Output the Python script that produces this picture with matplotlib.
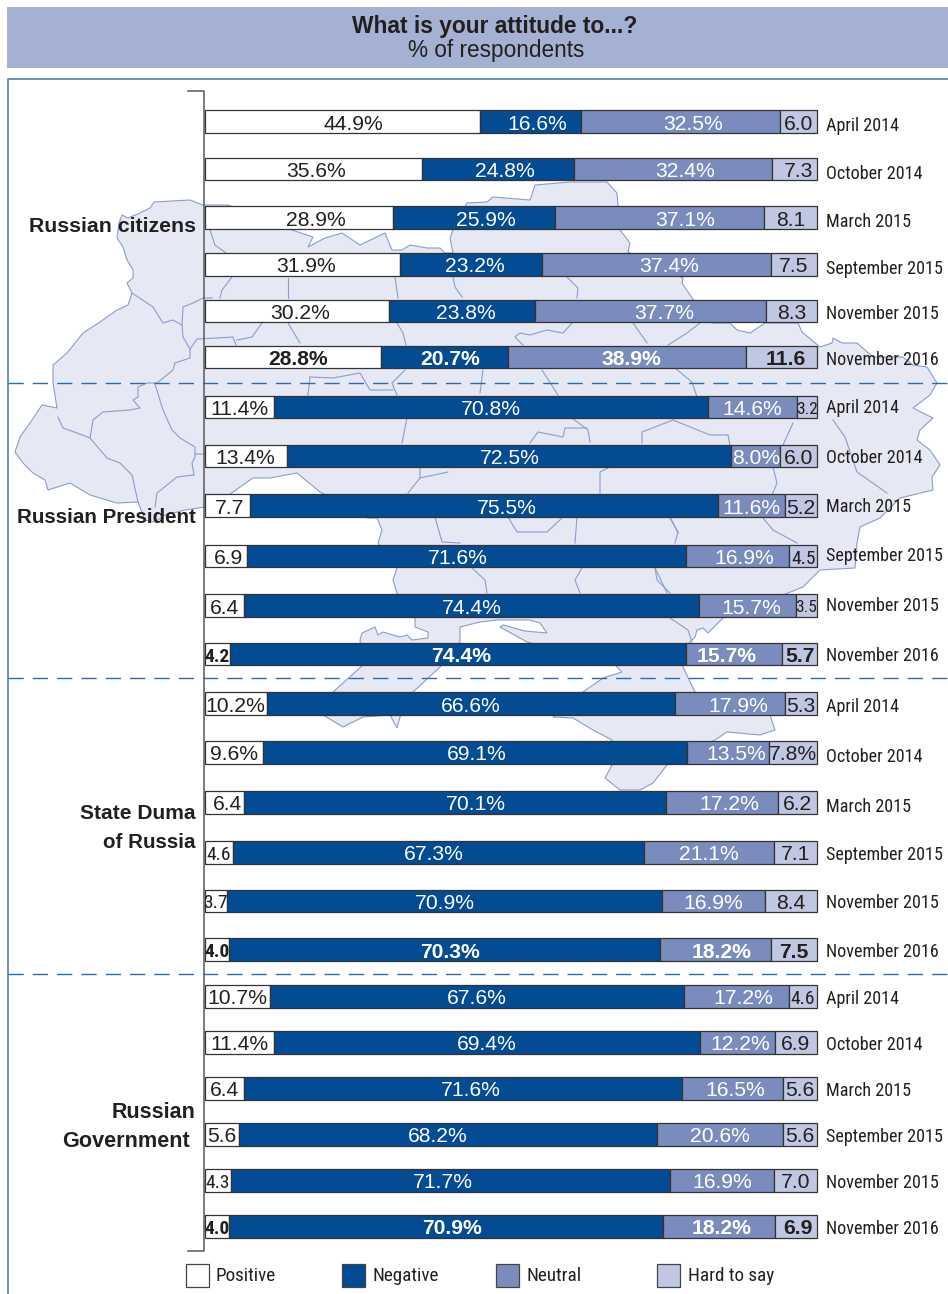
import matplotlib
matplotlib.use("Agg")
import matplotlib.pyplot as plt
from matplotlib import font_manager as fm
from matplotlib.patches import Polygon, Rectangle

names = {f.name for f in fm.fontManager.ttflist}
SANS = "Liberation Sans"
NARROW = "Liberation Sans Narrow" if "Liberation Sans Narrow" in names else ("Roboto Condensed" if "Roboto Condensed" in names else SANS)

# ---------- data ----------
dates = ["April 2014", "October 2014", "March 2015", "September 2015", "November 2015", "November 2016"]
legend_labels = ["Positive", "Negative", "Neutral", "Hard to say"]

positive = [44.9, 35.6, 28.9, 31.9, 30.2, 28.8,
            11.4, 13.4, 7.7, 6.9, 6.4, 4.2,
            10.2, 9.6, 6.4, 4.6, 3.7, 4.0,
            10.7, 11.4, 6.4, 5.6, 4.3, 4.0]
negative = [16.6, 24.8, 25.9, 23.2, 23.8, 20.7,
            70.8, 72.5, 75.5, 71.6, 74.4, 74.4,
            66.6, 69.1, 70.1, 67.3, 70.9, 70.3,
            67.6, 69.4, 71.6, 68.2, 71.7, 70.9]
neutral = [32.5, 32.4, 37.1, 37.4, 37.7, 38.9,
           14.6, 8.0, 11.6, 16.9, 15.7, 15.7,
           17.9, 13.5, 17.2, 21.1, 16.9, 18.2,
           17.2, 12.2, 16.5, 20.6, 16.9, 18.2]
hard = [6.0, 7.3, 8.1, 7.5, 8.3, 11.6,
        3.2, 6.0, 5.2, 4.5, 3.5, 5.7,
        5.3, 7.8, 6.2, 7.1, 8.4, 7.5,
        4.6, 6.9, 5.6, 5.6, 7.0, 6.9]
# three bars in the picture are not drawn to the length their labels state
drawn_lengths = {2: [30.7, 26.6, 34.0, 8.7],
                 8: [7.4, 76.5, 10.8, 5.3],
                 14: [6.4, 69.0, 18.2, 6.4]}

# ---------- layout (pixels) ----------
W, H = 948, 1294
BAR_L, BAR_R = 204.5, 817
BAR_H = 22.5
row_y = [121.5, 169, 217.5, 264.5, 311, 357,
         407, 456, 505.5, 556, 605.5, 654,
         703.5, 752.5, 802.5, 852.5, 901, 949.5,
         996.5, 1042.5, 1088.5, 1134.5, 1180.5, 1226.5]
date_y = [124, 172, 220, 267, 312, 358, 406, 456, 505, 554, 604, 654,
          705, 755, 805, 853, 901, 950, 997, 1043, 1089, 1135, 1181, 1227]
shift = {(0, 0): 11, (0, 1): 7, (0, 2): 12, (1, 0): 3, (1, 1): 7, (1, 2): 12, (1, 3): 4,
         (2, 0): 17, (2, 1): 12, (2, 2): 26, (3, 0): 4, (3, 1): 4, (3, 2): 13, (4, 0): 3,
         (4, 1): 4, (4, 2): 13, (5, 0): 5, (5, 1): 6, (5, 2): 5, (5, 3): 4,
         (7, 1): 1, (8, 0): 2, (8, 1): 23, (9, 0): 3, (9, 1): -8, (9, 2): 7, (10, 2): 4,
         (11, 1): 3, (11, 2): -7, (12, 2): 9, (13, 1): 2, (13, 2): 8,
         (14, 0): 3, (14, 1): 21, (14, 2): 7, (15, 1): -5,
         (17, 1): 6, (17, 2): 6, (18, 2): 7, (19, 2): 3,
         (20, 1): 8, (20, 2): 3, (21, 1): -10, (22, 1): -8, (23, 1): 6, (23, 2): 3, (23, 3): 2}

INK = "#231f20"
C_POS, C_NEG, C_NEU, C_HARD = "#ffffff", "#034b92", "#7a8cbd", "#c0c7e2"
C_HEAD, C_MAP, C_BORDER = "#a4b1d3", "#e6e9f4", "#8a9dcb"
C_FRAME, C_DASH = "#4a80b8", "#2a6bb0"

# decorative map backdrop, traced outline
map_outline = [(154, 202), (190, 200), (203, 205), (228, 205), (292, 230), (313, 237), (308, 247), (325, 238),
    (342, 233), (360, 245), (385, 233), (392, 250), (402, 250), (410, 245), (427, 248), (440, 248), (445, 253),
    (453, 253), (450, 238), (453, 230), (467, 203), (487, 202), (493, 197), (530, 200), (535, 185), (570, 182),
    (607, 182), (617, 193), (618, 205), (620, 230), (630, 243), (628, 252), (683, 278), (682, 283), (692, 298),
    (712, 323), (730, 323), (737, 330), (750, 333), (765, 323), (798, 323), (802, 332), (820, 347), (832, 343),
    (833, 338), (842, 343), (857, 343), (873, 357), (903, 357), (913, 365), (927, 367), (937, 383), (930, 395),
    (913, 408), (933, 418), (920, 430), (917, 440), (930, 450), (940, 465), (932, 477), (933, 490), (900, 498),
    (880, 518), (860, 527), (857, 543), (855, 568), (820, 570), (803, 587), (788, 593), (723, 618), (708, 633),
    (703, 628), (697, 630), (695, 637), (690, 642), (683, 667), (695, 692), (770, 715), (775, 730), (760, 735),
    (727, 732), (715, 740), (667, 765), (653, 783), (640, 790), (620, 790), (605, 778), (612, 765), (612, 740),
    (593, 730), (573, 718), (553, 717), (583, 692), (603, 678), (622, 672), (615, 665), (527, 642), (500, 627),
    (503, 625), (525, 631), (547, 633), (540, 623), (530, 620), (497, 620), (480, 622), (460, 627), (460, 642),
    (440, 667), (413, 692), (400, 717), (397, 728), (390, 715), (363, 717), (343, 727), (323, 715), (333, 692),
    (363, 665), (360, 640), (362, 633), (375, 627), (378, 635), (383, 632), (400, 637), (407, 635), (412, 640),
    (428, 638), (428, 632), (415, 627), (415, 617), (397, 593), (393, 580), (397, 568), (378, 543), (382, 530),
    (377, 518), (368, 518), (320, 492), (297, 473), (270, 478), (253, 478), (233, 492), (215, 505), (205, 507),
    (185, 510), (165, 515), (155, 522), (145, 520), (138, 502), (117, 503), (90, 495), (70, 483), (48, 490),
    (45, 480), (33, 473), (23, 463), (15, 452), (20, 437), (32, 420), (42, 405), (57, 408), (53, 383), (53, 365),
    (67, 353), (83, 333), (100, 322), (117, 310), (128, 305), (132, 293), (127, 283), (133, 278), (133, 270),
    (127, 260), (123, 247), (117, 238), (119, 223), (122, 215), (128, 218), (140, 213), (150, 208)]
map_borders = [
    [(132, 293), (153, 307), (163, 323), (173, 320), (182, 325), (183, 307), (193, 303), (203, 298), (212, 298)],
    [(182, 325), (183, 337), (190, 349), (197, 339), (217, 338), (233, 337), (236, 345)],
    [(190, 349), (190, 358), (175, 363), (173, 370), (157, 383), (147, 383), (138, 387), (138, 397), (133, 400),
     (140, 408), (130, 410), (103, 412), (93, 420), (90, 438)],
    [(58, 417), (63, 428), (77, 433), (90, 438), (107, 458), (120, 463), (132, 475), (138, 502)],
    [(155, 384), (163, 410), (172, 430), (180, 438), (195, 447), (195, 457), (192, 463), (194, 475), (177, 477),
     (157, 493), (155, 507)],
    [(195, 454), (230, 455)], [(210, 230), (215, 245), (226, 253)], [(232, 277), (222, 290), (220, 298)],
    [(288, 278), (288, 298)], [(395, 277), (398, 298)], [(453, 277), (455, 287), (462, 297)],
    [(567, 277), (578, 288), (577, 298)], [(397, 323), (403, 333), (406, 345)],
    [(262, 323), (252, 337), (237, 340)], [(288, 323), (300, 343)],
    [(572, 323), (563, 333), (547, 330), (530, 335), (520, 333), (515, 337), (523, 345)],
    [(633, 323), (647, 343)], [(700, 323), (687, 333), (668, 345)], [(675, 368), (692, 382), (697, 397)],
    [(405, 370), (392, 383), (397, 395)], [(310, 377), (308, 395)],
    [(310, 377), (333, 378), (360, 373), (370, 390), (393, 390)], [(483, 370), (480, 393)],
    [(542, 370), (558, 395)], [(407, 418), (402, 443)], [(572, 418), (588, 430), (590, 442)],
    [(530, 443), (538, 432), (563, 437), (565, 428), (587, 428)], [(420, 468), (420, 478), (408, 493)],
    [(420, 478), (448, 472)], [(600, 493), (600, 472), (608, 468)], [(673, 420), (642, 432), (642, 443)],
    [(673, 420), (710, 435), (728, 435), (730, 445)], [(793, 423), (773, 467), (777, 483), (763, 517)],
    [(763, 518), (773, 530), (797, 543)], [(833, 420), (845, 437), (857, 472), (887, 493)],
    [(670, 518), (678, 532), (675, 543)], [(655, 568), (657, 580), (670, 593)],
    [(435, 517), (442, 542), (460, 543)], [(508, 517), (517, 532), (547, 532), (562, 518)],
    [(577, 517), (575, 543)], [(670, 517), (678, 533)], [(472, 568), (485, 580), (487, 593)],
    [(582, 568), (575, 580), (580, 593)], [(655, 568), (667, 593)], [(670, 618), (688, 630), (692, 642)],
]

fig = plt.figure(figsize=(W / 100, H / 100), dpi=100, facecolor="white")

# pixel-space backdrop
bg = fig.add_axes([0, 0, 1, 1], zorder=0)
bg.set_xlim(0, W)
bg.set_ylim(H, 0)
bg.axis("off")
bg.add_patch(Rectangle((7, 7), W - 7, 61, fc=C_HEAD, ec="none"))
bg.add_patch(Polygon(map_outline, closed=True, fc=C_MAP, ec=C_BORDER, lw=0.8))
for seg in map_borders:
    bg.plot(*zip(*seg), color=C_BORDER, lw=0.8, solid_joinstyle="round")
bg.plot([8, 8, W], [H, 79, 79], color=C_FRAME, lw=1.2)
for y in [383, 678, 974]:
    bg.plot([8, W], [y, y], color=C_DASH, lw=1.0, dashes=(11, 6.5))
bg.plot([188, 204, 204, 188], [91, 91, 1251, 1251], color="#58585a", lw=1.1)

bg.text(495, 26, "What is your attitude to...?", family=SANS, weight="bold", size=16.4, color=INK, ha="center", va="center")
bg.text(496, 50, "% of respondents", family=SANS, size=16.3, color=INK, ha="center", va="center")

GROUP = dict(family=SANS, weight="bold", color=INK, ha="right", va="center", zorder=6)
bg.text(196, 226.5, "Russian citizens", size=15.3, **GROUP)
bg.text(196, 517.5, "Russian President", size=14.8, **GROUP)
bg.text(196, 813.5, "State Duma", size=15.1, **GROUP)
bg.text(196, 842.5, "of Russia", size=14.8, **GROUP)
bg.text(196, 1112.5, "Russian", size=15.5, **GROUP)
bg.text(190, 1141.5, "Government", size=15.6, **GROUP)

# stacked bars
ax = fig.add_axes([BAR_L / W, 0, (BAR_R - BAR_L) / W, 1], zorder=1)
ax.patch.set_alpha(0)
ax.set_xlim(0, 100)
ax.set_ylim(H, 0)
ax.axis("off")
px = 100 / (BAR_R - BAR_L)

series = [positive, negative, neutral, hard]
colors = [C_POS, C_NEG, C_NEU, C_HARD]
for i, y in enumerate(row_y):
    vals = [s[i] for s in series]
    lengths = drawn_lengths.get(i, vals)
    total = sum(lengths)
    left = 0
    bold = i % 6 == 5
    for k, (v, ln, c) in enumerate(zip(vals, lengths, colors)):
        w = ln / total * 100
        ax.barh(y, w, left=left, height=BAR_H, color=c, edgecolor="#333335", linewidth=0.9, clip_on=False)
        cx = left + w / 2 + shift.get((i, k), 0) * px
        narrow = k in (0, 3) and v <= 4.6
        if k == 0:
            txt = f"{v:.1f}%" if v >= 9.6 else f"{v:.1f}"
        elif k == 3:
            txt = f"{v:.1f}%" if v == 7.8 else f"{v:.1f}"
        else:
            txt = f"{v:.1f}%"
        size = (12.5 if v < 3.6 else 14) if narrow else 15.2
        ax.text(cx, y + 2.5, txt, family=NARROW if narrow else SANS, size=size,
                weight="bold" if bold else "normal", color="white" if k in (1, 2) else INK,
                ha="center", va="center", zorder=5)
        left += w
    bg.text(826, date_y[i] + 2, dates[i % 6], family=NARROW, size=13.1, color=INK, ha="left", va="center", zorder=6)

# legend
for x, tx, lab, c in zip([186, 342, 496, 657], [216, 373, 527, 688], legend_labels, colors):
    bg.add_patch(Rectangle((x, 1264), 23, 23, fc=c, ec="#444446", lw=0.9))
    bg.text(tx, 1276, lab, family=NARROW, size=13.8, color=INK, ha="left", va="center")

fig.savefig("out.png", dpi=100)
